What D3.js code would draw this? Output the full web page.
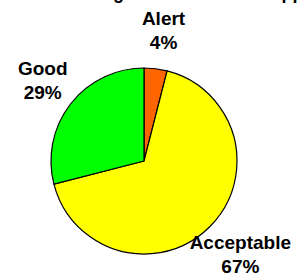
<!DOCTYPE html>
<html>
<head>
<meta charset="utf-8">
<script src="https://cdn.jsdelivr.net/npm/d3@7"></script>
<style>
  body { margin: 0; background: #fff; }
  text { font-family: "Liberation Sans", Arial, sans-serif; font-weight: bold; }
</style>
</head>
<body>
<div id="wrapper"></div>
<script>
const categories = ['Alert', 'Acceptable', 'Good'];
const shares = [4, 67, 29];
const colors = ['#ff6600', '#ffff00', '#00ff00'];
const titleText = 'Overall Rating Results of Each Approach';

function drawPie() {
  const data = categories.map((c, i) => ({ name: c, value: shares[i], color: colors[i] }));

  let dimensions = {
    width: 303,
    height: 277,
    cx: 144,
    cy: 161,
    radius: 93,
    labelRadius: 132
  };

  const wrapper = d3.select('#wrapper')
    .append('svg')
      .attr('width', dimensions.width)
      .attr('height', dimensions.height);

  // title sits mostly above the visible area
  wrapper.append('text')
      .attr('x', 2)
      .attr('y', -1)
      .attr('font-size', 18)
      .attr('fill', '#000')
      .text(titleText);

  const bounds = wrapper.append('g')
      .attr('transform', `translate(${dimensions.cx},${dimensions.cy})`);

  const pie = d3.pie()
      .sort(null)
      .value(d => d.value);

  const arcs = pie(data);

  const arcGenerator = d3.arc()
      .innerRadius(0)
      .outerRadius(dimensions.radius);

  const labelArc = d3.arc()
      .innerRadius(dimensions.labelRadius)
      .outerRadius(dimensions.labelRadius);

  bounds.selectAll('path')
    .data(arcs)
    .join('path')
      .attr('d', arcGenerator)
      .attr('fill', d => d.data.color)
      .attr('stroke', '#000')
      .attr('stroke-width', 1.2)
      .attr('stroke-linejoin', 'round');

  const labels = bounds.selectAll('g.label')
    .data(arcs)
    .join('g')
      .attr('class', 'label')
      .attr('transform', d => {
        const [x, y] = labelArc.centroid(d);
        return `translate(${x + 3},${y})`;
      });

  labels.append('text')
      .attr('text-anchor', 'middle')
      .attr('y', -5.5)
      .attr('font-size', 19)
      .text(d => d.data.name);

  labels.append('text')
      .attr('text-anchor', 'middle')
      .attr('y', 18.5)
      .attr('font-size', 19)
      .text(d => d.data.value + '%');
}

drawPie();
</script>
</body>
</html>
